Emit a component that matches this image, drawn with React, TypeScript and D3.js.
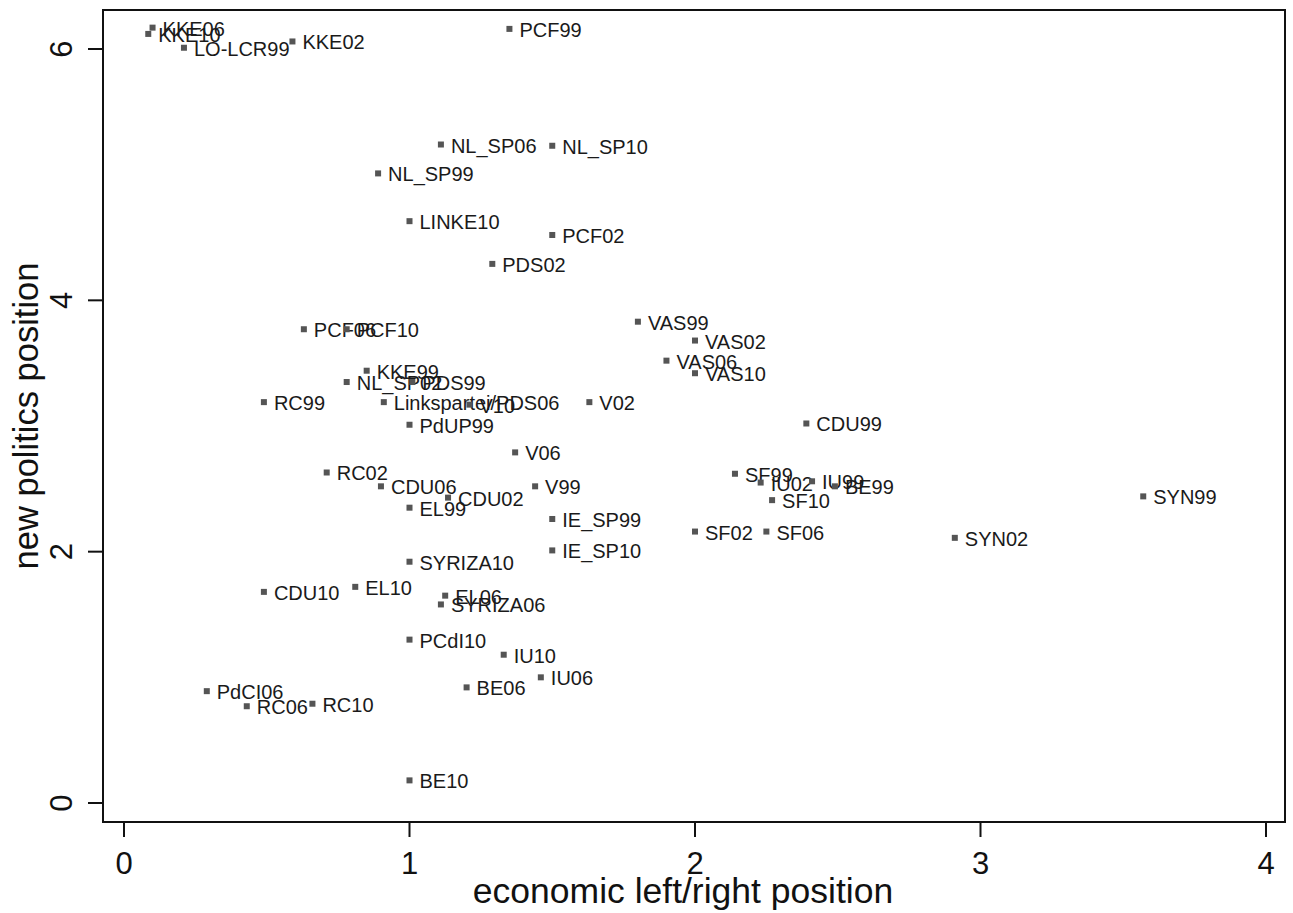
import * as d3 from 'd3';

const labels = [
  'KKE06', 'KKE10', 'LO-LCR99', 'KKE02', 'PCF99',
  'NL_SP06', 'NL_SP10', 'NL_SP99', 'LINKE10', 'PCF02', 'PDS02',
  'VAS99', 'VAS02', 'VAS06', 'VAS10',
  'PCF06', 'PCF10', 'KKE99', 'NL_SP02', 'PDS99', 'Linkspartei/PDS06',
  'RC99', 'V10', 'V02', 'PdUP99', 'CDU99', 'V06', 'RC02', 'CDU06', 'CDU02',
  'EL99', 'V99', 'IE_SP99', 'IE_SP10', 'SYRIZA10', 'CDU10', 'EL10', 'EL06',
  'SYRIZA06', 'SF99', 'IU02', 'IU99', 'BE99', 'SF10', 'SF02', 'SF06',
  'SYN99', 'SYN02', 'PCdI10', 'IU10', 'IU06', 'BE06', 'PdCI06', 'RC06',
  'RC10', 'BE10',
];

// economic left/right position
const econ = [
  0.10, 0.085, 0.21, 0.59, 1.35,
  1.11, 1.50, 0.89, 1.00, 1.50, 1.29,
  1.80, 2.00, 1.90, 2.00,
  0.63, 0.78, 0.85, 0.78, 1.01, 0.91,
  0.49, 1.21, 1.63, 1.00, 2.39, 1.37, 0.71, 0.90, 1.135,
  1.00, 1.44, 1.50, 1.50, 1.00, 0.49, 0.81, 1.125,
  1.11, 2.14, 2.23, 2.41, 2.49, 2.27, 2.00, 2.25,
  3.57, 2.91, 1.00, 1.33, 1.46, 1.20, 0.29, 0.43,
  0.66, 1.00,
];

// new politics position
const newPol = [
  6.17, 6.12, 6.01, 6.06, 6.16,
  5.24, 5.23, 5.01, 4.63, 4.52, 4.29,
  3.83, 3.68, 3.52, 3.42,
  3.77, 3.77, 3.44, 3.35, 3.35, 3.19,
  3.19, 3.17, 3.19, 3.01, 3.02, 2.79, 2.63, 2.52, 2.43,
  2.35, 2.52, 2.26, 2.01, 1.92, 1.68, 1.72, 1.65,
  1.58, 2.62, 2.55, 2.56, 2.52, 2.41, 2.16, 2.16,
  2.44, 2.11, 1.30, 1.18, 1.00, 0.92, 0.89, 0.77,
  0.79, 0.18,
];

const xTicks = [0, 1, 2, 3, 4];
const yTicks = [0, 2, 4, 6];

const W = 1293;
const H = 913;
const frame = { left: 103, right: 1285, top: 10, bottom: 822 };
const font = 'Liberation Sans, Arial, sans-serif';

export default function App() {
  const x = d3.scaleLinear().domain([0, 4]).range([124, 1266]);
  const y = d3.scaleLinear().domain([0, 6]).range([803, 49]);

  const points = labels.map((name, i) => ({ name, x: econ[i], y: newPol[i] }));

  return (
    <svg
      width={W}
      height={H}
      style={{ position: 'absolute', left: 0, top: 0, background: '#fff' }}
      fontFamily={font}
    >
      <rect
        x={frame.left}
        y={frame.top}
        width={frame.right - frame.left}
        height={frame.bottom - frame.top}
        fill="none"
        stroke="#111"
        strokeWidth={2}
      />

      {xTicks.map((t) => (
        <g key={'x' + t}>
          <line x1={x(t)} x2={x(t)} y1={frame.bottom} y2={frame.bottom + 15} stroke="#111" strokeWidth={2} />
          <text x={x(t)} y={874} fontSize={31} textAnchor="middle" fill="#111">{t}</text>
        </g>
      ))}

      {yTicks.map((t) => (
        <g key={'y' + t}>
          <line x1={frame.left - 15} x2={frame.left} y1={y(t)} y2={y(t)} stroke="#111" strokeWidth={2} />
          <text
            transform={`translate(72,${y(t)}) rotate(-90)`}
            fontSize={31}
            textAnchor="middle"
            fill="#111"
          >
            {t}
          </text>
        </g>
      ))}

      <text x={683} y={903} fontSize={35.5} textAnchor="middle" fill="#111">
        economic left/right position
      </text>
      <text
        transform={`translate(38,${(frame.top + frame.bottom) / 2}) rotate(-90)`}
        fontSize={34.5}
        textAnchor="middle"
        fill="#111"
      >
        new politics position
      </text>

      {points.map((p) => (
        <g key={p.name}>
          <rect x={x(p.x) - 3} y={y(p.y) - 3} width={6} height={6} fill="#555" />
          <text x={x(p.x) + 10} y={y(p.y) + 8} fontSize={20} fill="#1a1a1a">{p.name}</text>
        </g>
      ))}
    </svg>
  );
}
